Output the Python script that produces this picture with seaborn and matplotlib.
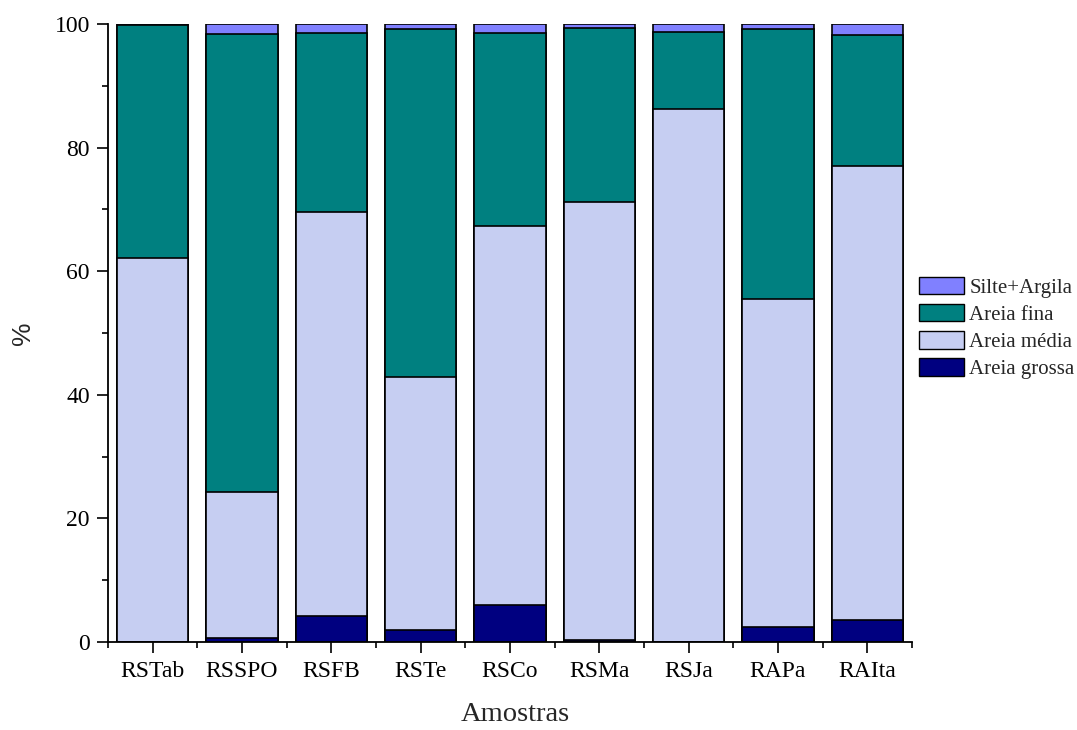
import numpy as np
import pandas as pd
import matplotlib
matplotlib.use("Agg")
import matplotlib.pyplot as plt
from matplotlib.patches import Patch
from matplotlib.ticker import MultipleLocator, FixedLocator
import seaborn as sns

# Grain-size fractions (%) per sample
amostras = ["RSTab", "RSSPO", "RSFB", "RSTe", "RSCo", "RSMa", "RSJa", "RAPa", "RAIta"]
areia_grossa = [0.0, 0.6, 4.2, 2.0, 6.0, 0.4, 0.0, 2.5, 3.5]
areia_media = [62.2, 23.7, 65.4, 40.9, 61.3, 70.8, 86.3, 53.0, 73.5]
areia_fina = [37.7, 74.1, 28.9, 56.3, 31.2, 28.2, 12.5, 43.7, 21.2]
silte_argila = [0.1, 1.6, 1.5, 0.8, 1.5, 0.6, 1.2, 0.8, 1.8]

fracoes = ["Areia grossa", "Areia média", "Areia fina", "Silte+Argila"]
cores = {"Areia grossa": "#000080", "Areia média": "#C6CEF2",
         "Areia fina": "#008080", "Silte+Argila": "#8080FF"}

df = pd.DataFrame({"Amostra": amostras,
                   "Areia grossa": areia_grossa,
                   "Areia média": areia_media,
                   "Areia fina": areia_fina,
                   "Silte+Argila": silte_argila})
cum = df[fracoes].cumsum(axis=1)
cum["Amostra"] = df["Amostra"]

sns.set_theme(style="ticks")
plt.rcParams["font.family"] = ["Liberation Serif", "DejaVu Serif"]

fig = plt.figure(figsize=(10.77, 7.3), dpi=100)
ax = fig.add_axes([0.1003, 0.1205, 0.7465, 0.8465])

# Stacked bars: draw cumulative totals from the top fraction down
for fr in reversed(fracoes):
    sns.barplot(data=cum, x="Amostra", y=fr, order=amostras, color=cores[fr],
                saturation=1, width=0.8, edgecolor="black", linewidth=1.2,
                errorbar=None, ax=ax)

ax.set_xlim(-0.5, len(amostras) - 0.5)
ax.set_ylim(0, 100)
ax.yaxis.set_major_locator(MultipleLocator(20))
ax.yaxis.set_minor_locator(MultipleLocator(10))
ax.xaxis.set_minor_locator(FixedLocator(np.arange(-0.5, len(amostras), 1.0)))

for side in ["top", "right"]:
    ax.spines[side].set_visible(False)
for side in ["left", "bottom"]:
    ax.spines[side].set_linewidth(1.3)
    ax.spines[side].set_color("black")

ax.tick_params(axis="both", which="major", direction="out", length=8, width=1.2,
               labelsize=17, colors="black")
ax.tick_params(axis="x", which="major", pad=6)
ax.tick_params(axis="y", which="major", pad=5)
ax.tick_params(axis="both", which="minor", direction="out", length=4, width=1.2,
               colors="black")

ax.set_xlabel("Amostras", fontsize=20.5, labelpad=14)
ax.xaxis.label.set_x(0.506)
ax.set_ylabel("%", fontsize=19, family=["Liberation Sans", "DejaVu Sans"],
              labelpad=14)

handles = [Patch(facecolor=cores[f], edgecolor="black", linewidth=1.0, label=f)
           for f in reversed(fracoes)]
ax.legend(handles=handles, loc="center left", bbox_to_anchor=(1.0, 0.508),
          frameon=False, fontsize=15, handlelength=2.15, handleheight=0.9,
          handletextpad=0.25, labelspacing=0.3, borderaxespad=0.0,
          borderpad=0.35)

fig.savefig("out.png", dpi=100, facecolor="white")
